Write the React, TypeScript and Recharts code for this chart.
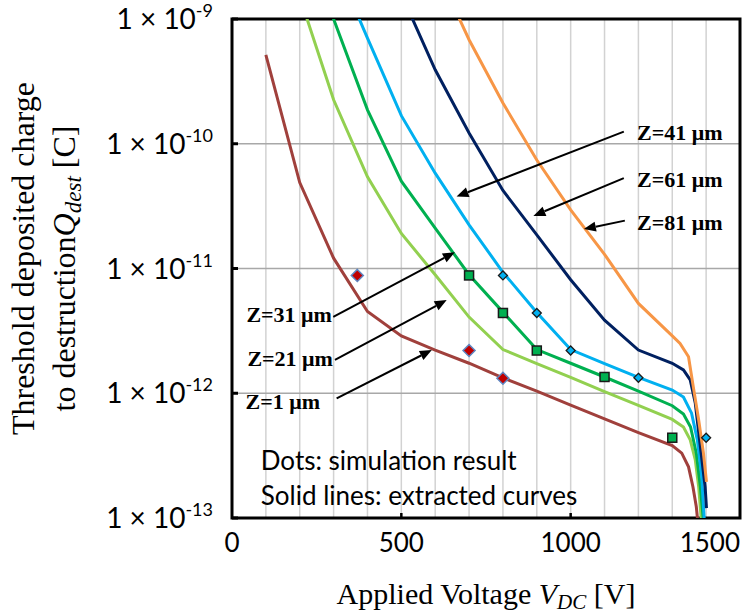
import React from 'react';
import {
  ComposedChart,
  Line,
  Scatter,
  XAxis,
  YAxis,
  CartesianGrid,
  ReferenceLine,
  ReferenceArea,
  ReferenceDot,
} from 'recharts';

// Axis ticks
const voltTicks = [0, 100, 200, 300, 400, 500, 600, 700, 800, 900, 1000, 1100, 1200, 1300, 1400, 1500];
const chargeTicks = [1e-13, 1e-12, 1e-11, 1e-10, 1e-9];

// Extracted curves (applied voltage [V] vs. threshold deposited charge [C])
const z1Volts = [100, 200, 300, 400, 500, 600, 700, 800, 900, 1000, 1100, 1200, 1300, 1328, 1348, 1361, 1371, 1378];
const z1Charge = [5.16e-10, 4.88e-11, 1.21e-11, 4.52e-12, 2.88e-12, 2.22e-12, 1.74e-12, 1.33e-12, 1.04e-12, 8.04e-13, 6.24e-13, 4.84e-13, 3.8e-13, 3.31e-13, 2.57e-13, 1.78e-13, 1.23e-13, 7.9e-14];

const z21Volts = [200, 300, 400, 500, 600, 700, 800, 900, 1000, 1100, 1200, 1300, 1333, 1353, 1368, 1378, 1385, 1390];
const z21Charge = [1.51e-9, 2.25e-10, 5.44e-11, 1.91e-11, 8.91e-12, 4.08e-12, 2.24e-12, 1.73e-12, 1.34e-12, 1.03e-12, 7.98e-13, 6.17e-13, 5.37e-13, 4.23e-13, 2.92e-13, 1.78e-13, 1.02e-13, 6.3e-14];

const z31Volts = [200, 300, 400, 500, 600, 700, 800, 900, 1000, 1100, 1200, 1300, 1333, 1354, 1371, 1383, 1391, 1396];
const z31Charge = [5.37e-9, 1e-9, 1.87e-10, 5.01e-11, 2.11e-11, 8.91e-12, 4.47e-12, 2.24e-12, 1.74e-12, 1.35e-12, 1.04e-12, 7.94e-13, 6.82e-13, 5.37e-13, 3.31e-13, 1.78e-13, 1.02e-13, 6.3e-14];

const z41Volts = [300, 400, 500, 600, 700, 800, 900, 1000, 1100, 1200, 1300, 1333, 1357, 1374, 1387, 1394, 1399];
const z41Charge = [3.02e-9, 7.03e-10, 1.68e-10, 5.81e-11, 2.24e-11, 9.33e-12, 4.44e-12, 2.24e-12, 1.73e-12, 1.34e-12, 1.06e-12, 9.33e-13, 6.92e-13, 4.23e-13, 2.14e-13, 1.02e-13, 6.3e-14];

const z61Volts = [500, 600, 700, 800, 900, 1000, 1100, 1200, 1300, 1333, 1353, 1368, 1383, 1397, 1401];
const z61Charge = [1.585e-9, 3.92e-10, 1.22e-10, 4.22e-11, 1.86e-11, 8.13e-12, 3.85e-12, 2.22e-12, 1.74e-12, 1.54e-12, 1.28e-12, 8.32e-13, 3.72e-13, 1.78e-13, 1.2e-13];

const z81Volts = [600, 700, 800, 900, 1000, 1100, 1200, 1300, 1323, 1348, 1362, 1378, 1392, 1401];
const z81Charge = [2.63e-9, 6.82e-10, 2.12e-10, 7.41e-11, 2.95e-11, 1.3e-11, 5.25e-12, 2.88e-12, 2.51e-12, 1.96e-12, 1.13e-12, 6.1e-13, 3.31e-13, 1.95e-13];

// Simulation results
const simZ1Volts = [370, 700, 800];
const simZ1Charge = [8.8e-12, 2.2e-12, 1.32e-12];
const simZ31Volts = [700, 800, 900, 1100, 1300];
const simZ31Charge = [8.8e-12, 4.4e-12, 2.2e-12, 1.35e-12, 4.4e-13];
const simZ41Volts = [800, 900, 1000, 1200, 1400];
const simZ41Charge = [8.8e-12, 4.4e-12, 2.2e-12, 1.33e-12, 4.4e-13];

// Depth labels with their pointer arrows (data coordinates)
const noteText = ['Z=41 μm', 'Z=61 μm', 'Z=81 μm', 'Z=31 μm', 'Z=21 μm', 'Z=1 μm'];
const noteFrom: [number, number][] = [[1157, 1.25e-10], [1157, 5.3e-11], [1160, 2.42e-11], [299, 4.1e-12], [304, 1.85e-12], [309, 9.08e-13]];
const noteTo: [number, number][] = [[663, 3.77e-11], [890, 2.64e-11], [1039, 2.07e-11], [658, 1.35e-11], [634, 5.58e-12], [590, 2.22e-12]];
const noteAt: [number, number][] = [[1196, 1.23e-10], [1196, 5.13e-11], [1196, 2.34e-11], [295, 4.24e-12], [298, 1.9e-12], [260, 8.65e-13]];

const captionText = ['Dots: simulation result', 'Solid lines: extracted curves'];
const captionAt: [number, number][] = [[85, 2.8e-13], [85, 1.47e-13]];

const zip = (v: number[], q: number[]) => v.map((x, i) => ({ v: x, q: q[i] }));

const curves = [
  { id: 'z1', color: '#A0403C', data: zip(z1Volts, z1Charge) },
  { id: 'z21', color: '#92D050', data: zip(z21Volts, z21Charge) },
  { id: 'z31', color: '#00B050', data: zip(z31Volts, z31Charge) },
  { id: 'z41', color: '#00B0F0', data: zip(z41Volts, z41Charge) },
  { id: 'z61', color: '#002060', data: zip(z61Volts, z61Charge) },
  { id: 'z81', color: '#F79646', data: zip(z81Volts, z81Charge) },
];

const SERIF = '"Liberation Serif", "Times New Roman", serif';
const SANS = 'Lato, "Open Sans", sans-serif';

const diamondShape = (fill: string, stroke: string, r: number, sw: number) => (p: any) => (
  <polygon
    points={`${p.cx},${p.cy - r} ${p.cx + r},${p.cy} ${p.cx},${p.cy + r} ${p.cx - r},${p.cy}`}
    fill={fill}
    stroke={stroke}
    strokeWidth={sw}
  />
);

const squareShape = (fill: string, stroke: string, h: number, sw: number) => (p: any) => (
  <rect x={p.cx - h} y={p.cy - h} width={2 * h} height={2 * h} fill={fill} stroke={stroke} strokeWidth={sw} />
);

const XTick = (props: any) => {
  const { x, y, payload } = props;
  const v = payload.value as number;
  if (v % 500 !== 0) return <g />;
  const isLast = v === voltTicks[voltTicks.length - 1];
  const isEdge = isLast || v === voltTicks[0];
  return (
    <g>
      {!isEdge && <line x1={x} x2={x} y1={y} y2={y - 5} stroke="#000" strokeWidth={2.5} />}
      <text x={x} y={y + 34} textAnchor={isLast ? 'end' : 'middle'} fontFamily={SANS} fontSize={26} fill="#000">
        {v}
      </text>
    </g>
  );
};

const YTick = (props: any) => {
  const { x, y, payload } = props;
  const exp = Math.round(Math.log10(payload.value));
  return (
    <g>
      <line x1={x} x2={x + 6} y1={y} y2={y} stroke="#000" strokeWidth={3} />
      <text x={x - 19} y={y + 10} textAnchor="end" fontFamily={SANS} fontSize={28} fill="#000">
        <tspan>1 × 10</tspan>
        <tspan dy={-12} fontSize={18}>{String(exp)}</tspan>
      </text>
    </g>
  );
};

const YTitle = (props: any) => {
  const vb = props.viewBox || { x: 0, y: 0, width: 0, height: 0 };
  const cy = vb.y + vb.height / 2;
  const b1 = vb.x + 34;
  const b2 = vb.x + 75;
  return (
    <g fontFamily={SERIF} fontSize={32} fill="#000">
      <text transform={`translate(${b1},${cy - 10}) rotate(-90)`} textAnchor="middle">
        Threshold deposited charge
      </text>
      <text transform={`translate(${b2},${cy}) rotate(-90)`} textAnchor="middle">
        <tspan>to destruction</tspan>
        <tspan fontStyle="italic">Q</tspan>
        <tspan fontStyle="italic" fontSize={23} dy={6}>dest</tspan>
        <tspan dy={-6}> [C]</tspan>
      </text>
    </g>
  );
};

const XTitle = (props: any) => {
  const vb = props.viewBox || { x: 0, y: 0, width: 0, height: 0 };
  return (
    <text x={vb.x + vb.width / 2} y={vb.y + 86} textAnchor="middle" fontFamily={SERIF} fontSize={30} fill="#000">
      <tspan>Applied Voltage </tspan>
      <tspan fontStyle="italic">V</tspan>
      <tspan fontStyle="italic" fontSize={21} dy={5}>DC</tspan>
      <tspan dy={-5}> [V]</tspan>
    </text>
  );
};

const arrowShape = (p: any) => {
  const { x1, y1, x2, y2 } = p;
  const ang = Math.atan2(y2 - y1, x2 - x1);
  const c = Math.cos(ang);
  const s = Math.sin(ang);
  const head = 12;
  const hw = 5;
  const bx = x2 - head * c;
  const by = y2 - head * s;
  const pts = `${x2},${y2} ${bx - hw * s},${by + hw * c} ${bx + hw * s},${by - hw * c}`;
  return (
    <g>
      <line x1={x1} y1={y1} x2={bx} y2={by} stroke="#000" strokeWidth={2} />
      <polygon points={pts} fill="#000" />
    </g>
  );
};

const noteLabel = (text: string, anchor: 'start' | 'end') => (p: any) => (
  <text
    x={p.cx}
    y={p.cy + 7.5}
    textAnchor={anchor}
    fontFamily={SERIF}
    fontWeight="bold"
    fontSize={22}
    fill="#000"
  >
    {text}
  </text>
);

const captionLabel = (text: string) => (p: any) => (
  <text x={p.cx} y={p.cy + 8} textAnchor="start" fontFamily={SANS} fontSize={26} fill="#000">
    {text}
  </text>
);

export default function App() {
  return (
    <div style={{ position: 'absolute', left: 0, top: 0, width: 752, height: 615, background: '#fff' }}>
      <ComposedChart width={752} height={615} margin={{ top: 19, right: 12, bottom: 0, left: 0 }}>
        <CartesianGrid horizontal={false} stroke="#d2d2d2" strokeWidth={1.5} />
        <CartesianGrid vertical={false} stroke="#a8a8a8" strokeWidth={1.5} />
        <XAxis
          type="number"
          dataKey="v"
          domain={[0, 1500]}
          ticks={voltTicks}
          interval={0}
          allowDataOverflow
          height={97}
          axisLine={false}
          tickLine={false}
          tickSize={0}
          tickMargin={0}
          tick={<XTick />}
          label={{ content: (p: any) => <XTitle {...p} /> }}
        />
        <YAxis
          type="number"
          dataKey="q"
          scale="log"
          domain={[1e-13, 1e-9]}
          ticks={chargeTicks}
          interval={0}
          allowDataOverflow
          width={232}
          axisLine={false}
          tickLine={false}
          tickSize={0}
          tickMargin={0}
          tick={<YTick />}
          label={{ content: (p: any) => <YTitle {...p} /> }}
        />
        {curves.map((c) => (
          <Line
            key={c.id}
            data={c.data}
            dataKey="q"
            type="linear"
            stroke={c.color}
            strokeWidth={3}
            dot={false}
            activeDot={false}
            isAnimationActive={false}
          />
        ))}
        <Scatter
          data={zip(simZ1Volts, simZ1Charge)}
          dataKey="q"
          shape={diamondShape('#C00000', '#5E86C1', 6, 1.5)}
          isAnimationActive={false}
        />
        <Scatter
          data={zip(simZ31Volts, simZ31Charge)}
          dataKey="q"
          shape={squareShape('#00B050', '#1a1a1a', 4.5, 1.5)}
          isAnimationActive={false}
        />
        <Scatter
          data={zip(simZ41Volts, simZ41Charge)}
          dataKey="q"
          shape={diamondShape('#00B0F0', '#1a1a1a', 4.5, 1.3)}
          isAnimationActive={false}
        />
        {noteText.map((t, i) => (
          <ReferenceLine
            key={`arrow-${t}`}
            segment={[
              { x: noteFrom[i][0], y: noteFrom[i][1] },
              { x: noteTo[i][0], y: noteTo[i][1] },
            ]}
            ifOverflow="visible"
            shape={arrowShape}
          />
        ))}
        {noteText.map((t, i) => (
          <ReferenceDot
            key={`label-${t}`}
            x={noteAt[i][0]}
            y={noteAt[i][1]}
            r={0}
            ifOverflow="visible"
            shape={noteLabel(t, noteAt[i][0] > 750 ? 'start' : 'end')}
          />
        ))}
        {captionText.map((t, i) => (
          <ReferenceDot
            key={`caption-${i}`}
            x={captionAt[i][0]}
            y={captionAt[i][1]}
            r={0}
            ifOverflow="visible"
            shape={captionLabel(t)}
          />
        ))}
        <ReferenceArea
          x1={0}
          x2={1500}
          y1={1e-13}
          y2={1e-9}
          fill="none"
          fillOpacity={0}
          stroke="#000"
          strokeWidth={3}
          ifOverflow="visible"
        />
      </ComposedChart>
    </div>
  );
}
